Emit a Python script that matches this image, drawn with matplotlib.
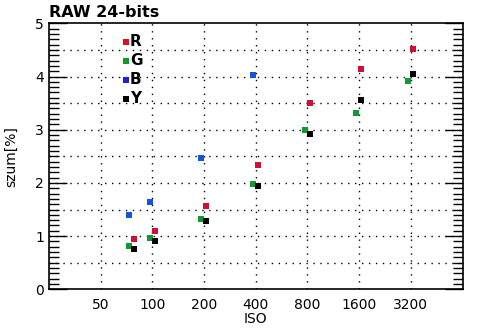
import matplotlib
matplotlib.use("Agg")
import matplotlib.pyplot as plt
from matplotlib.ticker import FixedLocator, MultipleLocator, NullLocator

# Noise measurements per ISO setting (percent)
iso_ticks = [50, 100, 200, 400, 800, 1600, 3200]
iso_r = [76, 100, 200, 400, 800, 1600, 3200]
noise_r = [0.94, 1.09, 1.56, 2.33, 3.50, 4.15, 4.51]
iso_g = [76, 100, 200, 400, 800, 1600, 3200]
noise_g = [0.81, 0.96, 1.32, 1.97, 2.99, 3.31, 3.91]
iso_b = [76, 100, 200, 400]
noise_b = [1.39, 1.635, 2.46, 4.02]
iso_y = [76, 100, 200, 400, 800, 1600, 3200]
noise_y = [0.75, 0.90, 1.28, 1.94, 2.91, 3.55, 4.04]

series = [
    ("R", iso_r, noise_r, "#cc1133", "#dd1122", 2 ** 0.045),
    ("G", iso_g, noise_g, "#119933", "#119922", 2 ** -0.055),
    ("B", iso_b, noise_b, "#1155dd", "#2222cc", 2 ** -0.055),
    ("Y", iso_y, noise_y, "#000000", "#000000", 2 ** 0.045),
]

fig = plt.figure(figsize=(4.94, 3.31), dpi=100)
ax = fig.add_axes([49 / 494, 1 - 289.3 / 331, (462.5 - 49) / 494, (289.3 - 23.3) / 331])

ax.set_xscale("log", base=2)
ax.set_xlim(25, 6400)
ax.set_ylim(0, 5)

for name, xs, ys, col, _, shift in series:
    ax.scatter([x * shift for x in xs], ys, marker="s", s=22, color=col,
               linewidths=0, zorder=3)

# Legend drawn as marker + bold letter
for i, (name, _, _, _, lcol, _) in enumerate(series):
    yv = 4.65 - i * 0.355
    ax.scatter([70], [yv], marker="s", s=13, color=lcol, linewidths=0, zorder=3)
    ax.text(74, yv, name, fontsize=11, fontweight="bold", va="center", ha="left")

ax.xaxis.set_major_locator(FixedLocator(iso_ticks))
ax.xaxis.set_minor_locator(NullLocator())
ax.set_xticklabels([str(v) for v in iso_ticks])
ax.tick_params(axis="x", which="both", length=0, labelsize=10, pad=6)

ax.yaxis.set_major_locator(MultipleLocator(1))
ax.yaxis.set_minor_locator(MultipleLocator(0.1))
ax.tick_params(axis="y", which="major", direction="in", length=13, width=1,
               left=True, right=True, labelsize=10)
ax.tick_params(axis="y", which="minor", direction="in", length=7, width=1,
               left=True, right=True)

dots = (0, (1, 4))
for v in iso_ticks:
    ax.axvline(v, color="black", lw=1, ls=dots, zorder=1)
for k in range(1, 10):
    ax.axhline(k * 0.5, color="black", lw=1, ls=dots, zorder=1)

for sp in ax.spines.values():
    sp.set_linewidth(1.2)

ax.set_xlabel("ISO", fontsize=10, labelpad=0)
ax.set_ylabel("szum[%]", fontsize=10, labelpad=12)
ax.text(0, 1.012, "RAW 24-bits", transform=ax.transAxes, fontsize=11.5,
        fontweight="bold", ha="left", va="bottom")

fig.savefig("out.png", dpi=100)
